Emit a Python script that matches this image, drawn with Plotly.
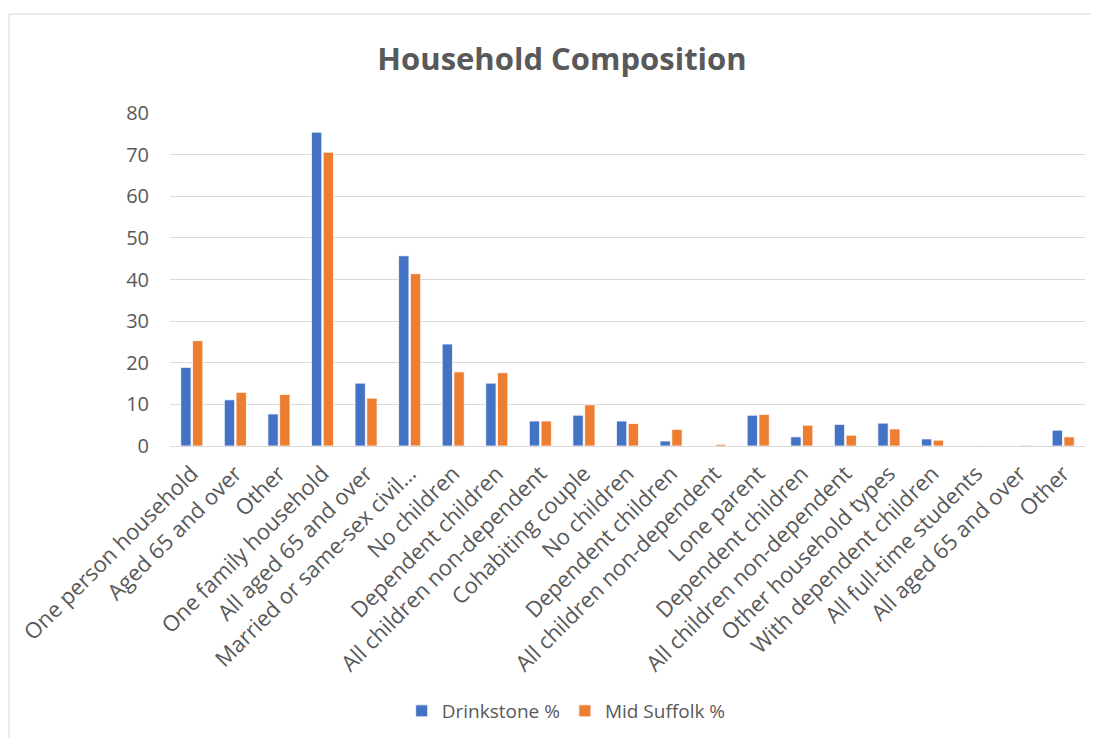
import plotly.graph_objects as go

categories = [
    "One person household", "Aged 65 and over", "Other", "One family household",
    "All aged 65 and over", "Married or same-sex civil…", "No children",
    "Dependent children", "All children non-dependent", "Cohabiting couple",
    "No children", "Dependent children", "All children non-dependent",
    "Lone parent", "Dependent children", "All children non-dependent",
    "Other household types", "With dependent children", "All full-time students",
    "All aged 65 and over", "Other",
]
drinkstone = [18.9, 11.1, 7.7, 75.4, 15.1, 45.7, 24.5, 15.1, 6.0, 7.4, 6.0, 1.2,
              0.0, 7.4, 2.2, 5.2, 5.5, 1.7, 0.0, 0.0, 3.8]
mid_suffolk = [25.3, 12.9, 12.4, 70.6, 11.5, 41.4, 17.8, 17.6, 6.0, 9.9, 5.4, 4.0,
               0.4, 7.6, 5.0, 2.6, 4.1, 1.4, 0.1, 0.2, 2.2]
y_ticks = [0, 10, 20, 30, 40, 50, 60, 70, 80]

positions = list(range(len(categories)))
grey = "#595959"
font_family = "Open Sans, Liberation Sans, sans-serif"

W, H = 1091, 730
L, R, T, B = 162, 14, 105, 292
pw, ph = W - L - R, H - T - B

fig = go.Figure()
fig.add_trace(go.Bar(x=positions, y=drinkstone, name="Drinkstone %",
                     marker=dict(color="#4472C4", line=dict(color="white", width=0.8))))
fig.add_trace(go.Bar(x=positions, y=mid_suffolk, name="Mid Suffolk %",
                     marker=dict(color="#ED7D31", line=dict(color="white", width=0.8))))

fig.update_layout(
    width=W, height=H,
    margin=dict(l=L, r=R, t=T, b=B, autoexpand=False),
    paper_bgcolor="white", plot_bgcolor="white",
    font=dict(family=font_family, color=grey, size=20),
    title=dict(text="<b>Household Composition</b>", x=554 / W, xanchor="center",
               y=1 - 51 / H, yanchor="middle",
               font=dict(size=31, color=grey, family=font_family)),
    barmode="group", bargap=0.46, bargroupgap=0.12,
    showlegend=True,
    legend=dict(orientation="h", x=0.433, xanchor="center", y=-265 / ph, yanchor="middle",
                font=dict(size=19, color=grey), itemwidth=30, traceorder="normal"),
    xaxis=dict(tickmode="array", tickvals=positions, ticktext=categories,
               tickangle=-45, showgrid=False, showline=True, linecolor="#d9d9d9",
               linewidth=1, ticks="", automargin=False,
               range=[-0.5, len(categories) - 0.5],
               tickfont=dict(size=22, color=grey), ticklabelstandoff=5),
    yaxis=dict(range=[0, 80], tickvals=y_ticks, showgrid=True, gridcolor="#d9d9d9",
               gridwidth=1, zeroline=False, ticks="", automargin=False,
               tickfont=dict(size=20, color=grey), ticklabelstandoff=20),
    shapes=[dict(type="rect", xref="paper", yref="paper",
                 x0=(1 - L) / pw, x1=(W + 20 - L) / pw,
                 y0=-(H + 20 - T - ph) / ph, y1=(T + ph - 6) / ph,
                 line=dict(color="#d9d9d9", width=1), layer="below")],
)

fig.write_html("out.html")
